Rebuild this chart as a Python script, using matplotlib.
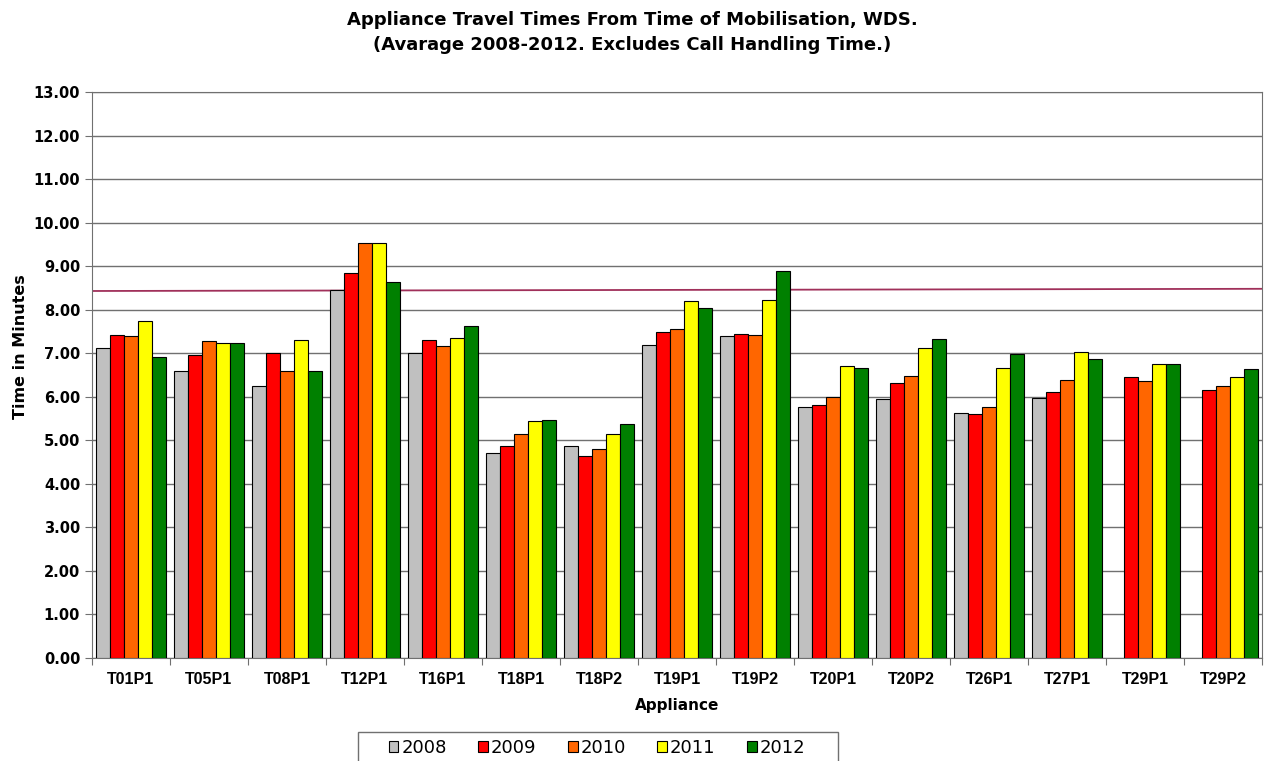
import numpy as np
from matplotlib import pyplot as plt
from matplotlib.patches import Rectangle

appliances = ['T01P1', 'T05P1', 'T08P1', 'T12P1', 'T16P1', 'T18P1', 'T18P2', 'T19P1',
              'T19P2', 'T20P1', 'T20P2', 'T26P1', 'T27P1', 'T29P1', 'T29P2']
years = ['2008', '2009', '2010', '2011', '2012']

t2008 = [7.11, 6.60, 6.25, 8.45, 7.00, 4.70, 4.87, 7.20, 7.40, 5.76, 5.94, 5.62, 5.98, np.nan, np.nan]
t2009 = [7.43, 6.96, 7.00, 8.85, 7.30, 4.88, 4.65, 7.49, 7.44, 5.80, 6.31, 5.61, 6.10, 6.45, 6.16]
t2010 = [7.39, 7.27, 6.59, 9.53, 7.17, 5.14, 4.81, 7.56, 7.43, 5.99, 6.48, 5.77, 6.38, 6.36, 6.24]
t2011 = [7.73, 7.24, 7.30, 9.53, 7.34, 5.44, 5.14, 8.21, 8.22, 6.71, 7.13, 6.65, 7.04, 6.76, 6.46]
t2012 = [6.91, 7.23, 6.60, 8.64, 7.63, 5.47, 5.37, 8.05, 8.90, 6.65, 7.33, 6.98, 6.87, 6.76, 6.63]

target = [8.43, 8.48]  # reference line, start and end value

colors = ['#C0C0C0', '#FF0000', '#FF6600', '#FFFF00', '#008000']

plt.rcParams['font.family'] = ['DejaVu Sans']

fig = plt.figure(figsize=(12.65, 7.61), dpi=100)
ax = fig.add_axes([0.0727, 0.1353, 0.925, 0.7438])

x = np.arange(len(appliances))
width = 0.18
series = [t2008, t2009, t2010, t2011, t2012]
for i, (vals, c, yr) in enumerate(zip(series, colors, years)):
    ax.bar(x + (i - 2) * width, vals, width, color=c, edgecolor='black', linewidth=0.8,
           label=yr, zorder=3)

ax.plot([-0.5, len(appliances) - 0.5], target, color='#A0305A', linewidth=1.3, zorder=2)

ax.set_xlim(-0.5, len(appliances) - 0.5)
ax.set_ylim(0, 13)
ax.set_yticks(np.arange(0, 14, 1))
ax.set_yticklabels(['%.2f' % v for v in np.arange(0, 14, 1)], fontweight='bold', fontsize=10.5)
ax.yaxis.grid(True, color='#707070', linewidth=1.0, zorder=0)

ax.set_xticks(np.arange(-0.5, len(appliances), 1))
ax.set_xticklabels([])
ax.set_xticks(x, minor=True)
ax.set_xticklabels(appliances, minor=True, fontweight='bold', fontsize=11.5,
                   family='Liberation Sans')
ax.tick_params(axis='x', which='minor', length=0, pad=10)
ax.tick_params(axis='x', which='major', length=5, color='#707070')
ax.tick_params(axis='y', length=5, color='#707070')

for s in ax.spines.values():
    s.set_color('#707070')

ax.set_ylabel('Time in Minutes', fontweight='bold', fontsize=11.5)
ax.yaxis.set_label_coords(-0.055, 0.55)
ax.set_xlabel('Appliance', fontweight='bold', fontsize=11, labelpad=8)

fig.suptitle('Appliance Travel Times From Time of Mobilisation, WDS.\n'
             '(Avarage 2008-2012. Excludes Call Handling Time.)',
             fontweight='bold', fontsize=13, y=0.985, linespacing=1.45)

leg = ax.legend(loc='upper center', bbox_to_anchor=(597 / 1265, 28 / 761),
                bbox_transform=fig.transFigure, ncol=5, fontsize=13,
                frameon=False, handlelength=0.55,
                handleheight=0.55, handletextpad=0.15, columnspacing=1.75, borderpad=0.35,
                borderaxespad=0)
# legend box is wider than the entries
fig.patches.append(Rectangle((358 / 1265, -0.01), 480 / 1265, 29 / 761 + 0.01,
                             transform=fig.transFigure, fill=False, edgecolor='#707070',
                             linewidth=1.0))

fig.savefig('out.png', dpi=100, facecolor='white')
